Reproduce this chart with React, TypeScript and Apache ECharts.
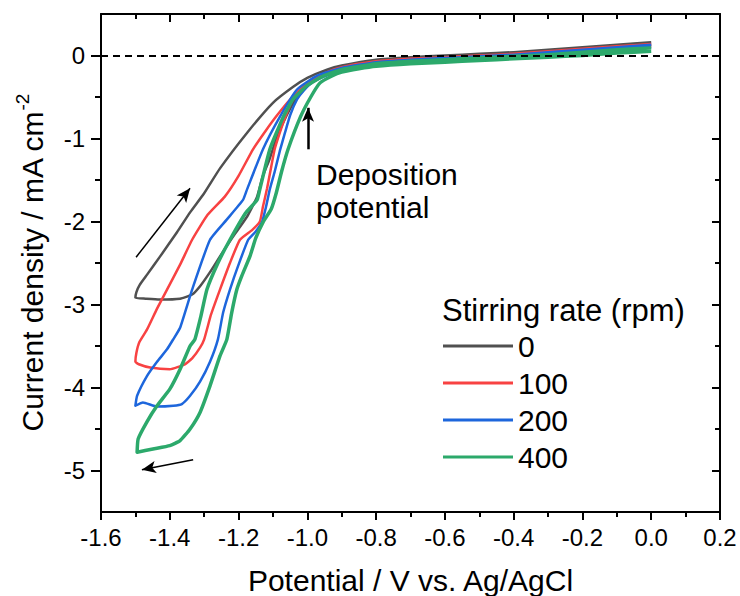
import React, { useEffect, useRef } from "react";
import * as echarts from "echarts";

// Potential (V vs. Ag/AgCl), current density (mA cm^-2): full CV loops
const cv0: number[][] = [
  [0, 0.13], [-0.1, 0.1], [-0.2, 0.07], [-0.3, 0.04], [-0.4, 0.02], [-0.5, 0.0], [-0.6, -0.02], [-0.7, -0.04],
  [-0.8, -0.07], [-0.85, -0.1], [-0.9, -0.14], [-0.95, -0.21], [-1.0, -0.34], [-1.03, -0.5], [-1.06, -0.72],
  [-1.09, -1.0], [-1.11, -1.25], [-1.13, -1.46], [-1.146, -1.7], [-1.175, -1.94], [-1.216, -2.18], [-1.254, -2.42],
  [-1.283, -2.61], [-1.312, -2.78], [-1.335, -2.88], [-1.37, -2.93], [-1.43, -2.94], [-1.47, -2.93], [-1.5, -2.92],
  [-1.497, -2.85], [-1.487, -2.76], [-1.466, -2.64], [-1.428, -2.42], [-1.379, -2.13], [-1.341, -1.89],
  [-1.3, -1.66], [-1.254, -1.36], [-1.175, -0.93], [-1.1, -0.57], [-1.042, -0.38], [-1.0, -0.27], [-0.943, -0.17],
  [-0.9, -0.12], [-0.8, -0.05], [-0.7, -0.02], [-0.6, 0.0], [-0.5, 0.02], [-0.4, 0.04], [-0.3, 0.07], [-0.2, 0.1],
  [-0.1, 0.13], [0, 0.16],
];
const cv100: number[][] = [
  [0, 0.11], [-0.1, 0.08], [-0.2, 0.05], [-0.3, 0.02], [-0.4, 0.0], [-0.5, -0.02], [-0.6, -0.04], [-0.7, -0.06],
  [-0.8, -0.09], [-0.85, -0.12], [-0.9, -0.16], [-0.95, -0.22], [-0.99, -0.32], [-1.02, -0.42], [-1.045, -0.55],
  [-1.065, -0.75], [-1.08, -0.93], [-1.095, -1.13], [-1.105, -1.34], [-1.117, -1.6], [-1.129, -1.82], [-1.138, -2.0],
  [-1.16, -2.1], [-1.196, -2.22], [-1.225, -2.5], [-1.254, -2.82], [-1.28, -3.12], [-1.3, -3.42], [-1.312, -3.52],
  [-1.335, -3.65], [-1.356, -3.72], [-1.4, -3.78], [-1.457, -3.76], [-1.49, -3.72], [-1.5, -3.69],
  [-1.497, -3.58], [-1.488, -3.45], [-1.466, -3.3], [-1.437, -3.05], [-1.408, -2.82], [-1.37, -2.52],
  [-1.335, -2.22], [-1.29, -1.92], [-1.24, -1.7], [-1.2, -1.45], [-1.158, -1.13], [-1.12, -0.9], [-1.088, -0.72],
  [-1.05, -0.53], [-1.0, -0.33], [-0.943, -0.2], [-0.9, -0.14], [-0.8, -0.07], [-0.7, -0.04], [-0.6, -0.02],
  [-0.5, 0.0], [-0.4, 0.02], [-0.3, 0.05], [-0.2, 0.08], [-0.1, 0.11], [0, 0.14],
];
const cv200: number[][] = [
  [0, 0.1], [-0.1, 0.07], [-0.2, 0.04], [-0.3, 0.01], [-0.4, -0.01], [-0.5, -0.03], [-0.6, -0.05], [-0.7, -0.07],
  [-0.8, -0.1], [-0.85, -0.13], [-0.9, -0.18], [-0.95, -0.25], [-0.984, -0.32], [-1.01, -0.42], [-1.03, -0.53],
  [-1.05, -0.72], [-1.065, -0.93], [-1.08, -1.15], [-1.095, -1.4], [-1.109, -1.61], [-1.12, -1.82], [-1.132, -2.01],
  [-1.15, -2.12], [-1.172, -2.22], [-1.2, -2.52], [-1.225, -2.82], [-1.245, -3.1], [-1.26, -3.42], [-1.283, -3.69],
  [-1.312, -3.93], [-1.341, -4.1], [-1.365, -4.2], [-1.39, -4.22], [-1.437, -4.23], [-1.478, -4.18], [-1.5, -4.22],
  [-1.495, -4.1], [-1.466, -3.86], [-1.437, -3.69], [-1.408, -3.54], [-1.39, -3.42], [-1.37, -3.28],
  [-1.335, -2.82], [-1.283, -2.22], [-1.235, -1.98], [-1.187, -1.74], [-1.175, -1.61], [-1.129, -1.13],
  [-1.08, -0.74], [-1.03, -0.41], [-0.97, -0.24], [-0.9, -0.15], [-0.8, -0.08], [-0.7, -0.05], [-0.6, -0.03],
  [-0.5, -0.01], [-0.4, 0.01], [-0.3, 0.04], [-0.2, 0.07], [-0.1, 0.1], [0, 0.13],
];
const cv400: number[][] = [
  [0, 0.05], [-0.1, 0.03], [-0.2, 0.0], [-0.3, -0.02], [-0.4, -0.04], [-0.5, -0.06], [-0.6, -0.08], [-0.7, -0.1],
  [-0.8, -0.13], [-0.85, -0.16], [-0.9, -0.2], [-0.93, -0.25], [-0.963, -0.33], [-0.99, -0.5], [-1.02, -0.74],
  [-1.056, -1.13], [-1.075, -1.4], [-1.09, -1.65], [-1.105, -1.85], [-1.129, -2.01], [-1.15, -2.2], [-1.167, -2.42],
  [-1.19, -2.65], [-1.205, -2.82], [-1.22, -3.1], [-1.234, -3.42], [-1.254, -3.62], [-1.283, -3.98], [-1.312, -4.3],
  [-1.341, -4.5], [-1.37, -4.64], [-1.4, -4.7], [-1.449, -4.74], [-1.495, -4.78],
  [-1.492, -4.62], [-1.466, -4.41], [-1.437, -4.22], [-1.4, -4.02], [-1.37, -3.78], [-1.341, -3.5],
  [-1.327, -3.42], [-1.31, -3.15], [-1.292, -2.82], [-1.26, -2.5], [-1.225, -2.22], [-1.18, -1.9],
  [-1.146, -1.74], [-1.138, -1.61], [-1.109, -1.13], [-1.07, -0.74], [-1.042, -0.53], [-1.0, -0.36],
  [-0.95, -0.24], [-0.9, -0.17], [-0.8, -0.1], [-0.7, -0.07], [-0.6, -0.05], [-0.5, -0.03], [-0.4, -0.01],
  [-0.3, 0.01], [-0.2, 0.04], [-0.1, 0.07], [0, 0.09],
];

const seriesNames = ["0", "100", "200", "400"];
const seriesColors = ["#505050", "#f84242", "#1d66dc", "#2ca96b"];
const seriesWidths = [2.5, 2.5, 2.5, 3.5];
const seriesData = [cv0, cv100, cv200, cv400];

const yMajor = [0, -1, -2, -3, -4, -5];
const yMinor = [-0.5, -1.5, -2.5, -3.5, -4.5];

// annotation arrows in data coordinates [from, to]
const scanArrowUp = [[-1.498, -2.43], [-1.341, -1.6]];
const scanArrowDown = [[-1.332, -4.87], [-1.481, -4.99]];
const depositionArrow = [[-0.998, -1.13], [-0.998, -0.63]];

const FONT = '"Liberation Sans", Arial, sans-serif';
const BIG = 30;
const TICK = 24;

export default function App() {
  const ref = useRef<HTMLDivElement>(null);
  useEffect(() => {
    if (!ref.current) return;
    const chart = echarts.init(ref.current, undefined, { renderer: "svg" });
    const axisLine = { show: true, onZero: false, lineStyle: { color: "#000", width: 2 } };
    const tickStyle = { color: "#000", width: 2 };
    const xCommon = {
      type: "value" as const,
      min: -1.6,
      max: 0.2,
      interval: 0.2,
      splitLine: { show: false },
      axisLine,
    };
    const yCommon = {
      type: "value" as const,
      min: -5.5,
      max: 0.5,
      splitLine: { show: false },
    };
    const option: any = {
      animation: false,
      backgroundColor: "#fff",
      textStyle: { fontFamily: FONT },
      grid: { left: 101, width: 619, top: 14, height: 498, containLabel: false, outerBoundsMode: "none" },
      xAxis: [
        {
          ...xCommon,
          position: "bottom",
          name: "Potential / V vs. Ag/AgCl",
          nameLocation: "middle",
          nameGap: 53,
          nameTextStyle: { fontSize: BIG, color: "#000", fontFamily: FONT },
          axisTick: { show: true, length: 8, lineStyle: tickStyle },
          minorTick: { show: true, splitNumber: 2, length: 5, lineStyle: tickStyle },
          axisLabel: {
            fontSize: TICK,
            color: "#000",
            margin: 13,
            fontFamily: FONT,
            formatter: (v: number) => (Math.abs(v) < 1e-9 ? "0.0" : v.toFixed(1)),
          },
        },
        {
          ...xCommon,
          position: "top",
          axisTick: { show: true, inside: true, length: 8, lineStyle: tickStyle },
          minorTick: { show: true, splitNumber: 2, length: 5, lineStyle: tickStyle },
          axisLabel: { show: false },
        },
      ],
      yAxis: [
        {
          ...yCommon,
          position: "left",
          axisLine,
          name: "{a|Current density / mA cm}{s|-2}",
          nameLocation: "middle",
          nameRotate: 90,
          nameGap: 54,
          nameTextStyle: {
            color: "#000",
            fontFamily: FONT,
            fontSize: BIG,
            rich: {
              a: { fontSize: BIG, fontFamily: FONT, color: "#000", lineHeight: 34, verticalAlign: "bottom" },
              s: { fontSize: 19, fontFamily: FONT, color: "#000", lineHeight: 18, verticalAlign: "top" },
            },
          },
          axisTick: { show: true, length: 10, customValues: yMajor, lineStyle: tickStyle },
          axisLabel: { fontSize: TICK, color: "#000", margin: 16, fontFamily: FONT, customValues: yMajor },
        },
        {
          ...yCommon,
          position: "left",
          axisLine: { show: false, onZero: false },
          axisTick: { show: true, length: 6, customValues: yMinor, lineStyle: tickStyle },
          axisLabel: { show: false },
        },
        {
          ...yCommon,
          position: "right",
          axisLine,
          axisTick: { show: true, inside: true, length: 8, customValues: yMajor, lineStyle: tickStyle },
          axisLabel: { show: false },
        },
        {
          ...yCommon,
          position: "right",
          axisLine: { show: false, onZero: false },
          axisTick: { show: true, inside: true, length: 5, customValues: yMinor, lineStyle: tickStyle },
          axisLabel: { show: false },
        },
      ],
      legend: {
        data: seriesNames,
        orient: "vertical",
        left: 443,
        top: 331,
        padding: 0,
        itemWidth: 70,
        itemHeight: 3,
        itemGap: 7,
        icon: "rect",
        textStyle: { fontSize: BIG, color: "#000", fontFamily: FONT, padding: [0, 0, 0, 0] },
      },
      graphic: [
        {
          type: "text",
          left: 442,
          top: 295,
          style: { text: "Stirring rate (rpm)", fontSize: 31, fontFamily: FONT, fill: "#000" },
        },
        {
          type: "text",
          left: 316,
          top: 158,
          style: { text: "Deposition\npotential", fontSize: BIG, fontFamily: FONT, fill: "#000", lineHeight: 33 },
        },
      ],
      series: [
        {
          type: "line",
          name: "_annotations",
          data: [],
          silent: true,
          z: 1,
          markLine: {
            silent: true,
            animation: false,
            symbol: ["none", "none"],
            label: { show: false },
            lineStyle: { color: "#000", type: [7, 5], width: 2 },
            data: [{ yAxis: 0 }],
          },
        },
        {
          type: "line",
          name: "_arrows",
          data: [],
          silent: true,
          z: 5,
          markLine: {
            silent: true,
            animation: false,
            symbol: ["none", "arrow"],
            symbolSize: [9, 14],
            label: { show: false },
            lineStyle: { color: "#000", type: "solid", width: 1.5 },
            data: [
              [{ coord: scanArrowUp[0] }, { coord: scanArrowUp[1] }],
              [{ coord: scanArrowDown[0] }, { coord: scanArrowDown[1] }],
              [
                { coord: depositionArrow[0], lineStyle: { width: 2.5, color: "#000", type: "solid" } },
                { coord: depositionArrow[1] },
              ],
            ],
          },
        },
        ...seriesData.map((d, i) => ({
          type: "line",
          name: seriesNames[i],
          data: d,
          showSymbol: false,
          symbol: "none",
          smooth: 0.15,
          z: 3 + i * 0.1,
          color: seriesColors[i],
          lineStyle: { color: seriesColors[i], width: seriesWidths[i], join: "round" },
          itemStyle: { color: seriesColors[i] },
        })),
      ],
    };
    chart.setOption(option);
    return () => chart.dispose();
  }, []);
  return (
    <div
      ref={ref}
      style={{ position: "fixed", left: 0, top: 0, width: 740, height: 596, background: "#fff" }}
    />
  );
}
